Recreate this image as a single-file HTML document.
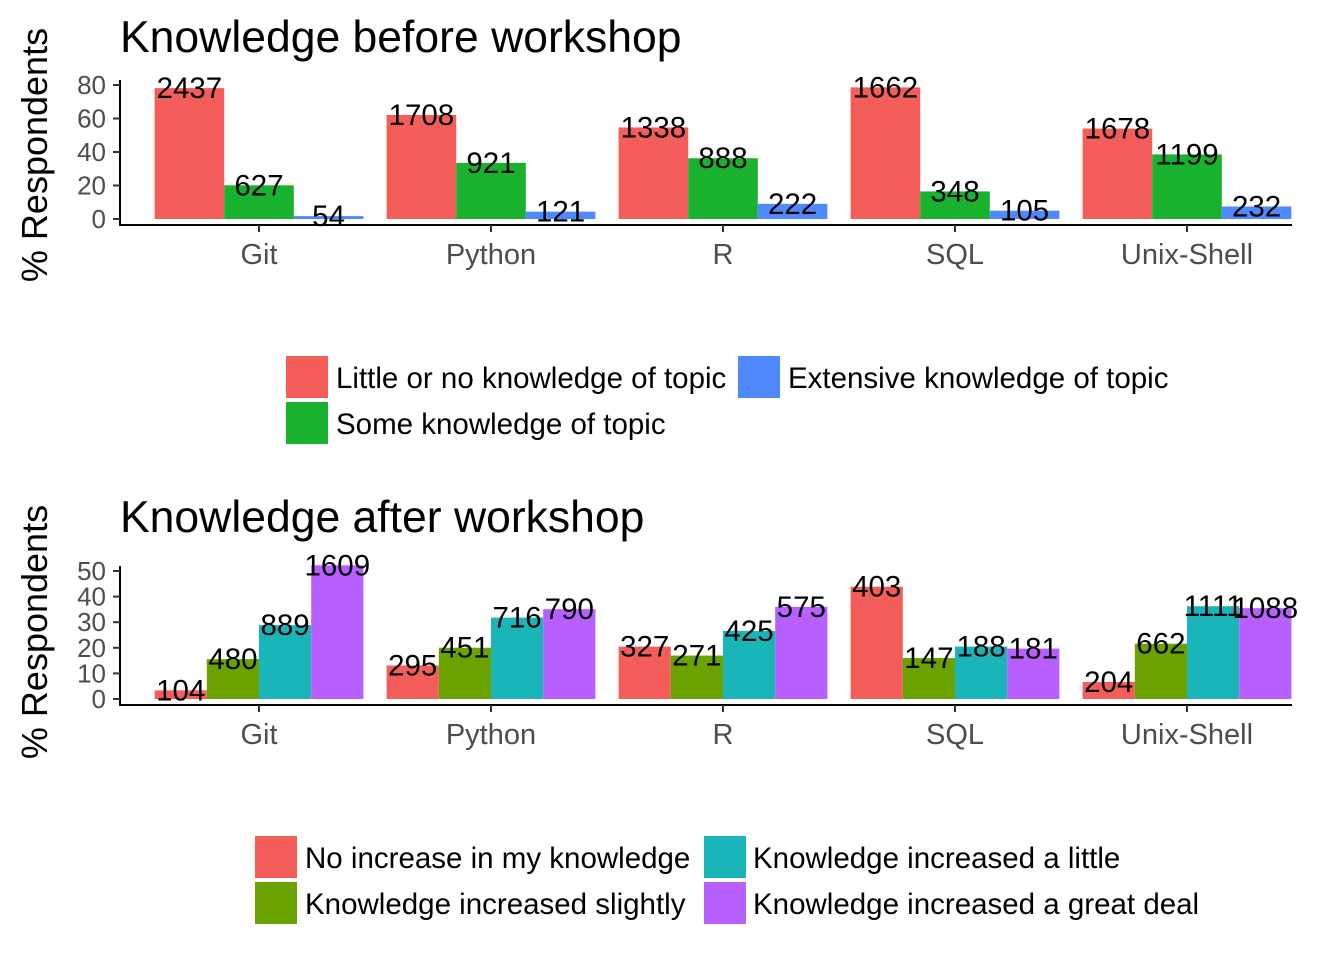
<!DOCTYPE html>
<html><head><meta charset="utf-8"><style>
body{margin:0;background:#fff;}
svg text{font-family:"Liberation Sans",Arial,sans-serif;}
</style></head><body>
<svg id="s" width="1344" height="960" xmlns="http://www.w3.org/2000/svg">
<text x="120" y="52" font-size="44.5">Knowledge before workshop</text>
<text x="120" y="532" font-size="44.5">Knowledge after workshop</text>
<text transform="translate(47,155) rotate(-90)" font-size="36" text-anchor="middle">% Respondents</text>
<text transform="translate(47,632) rotate(-90)" font-size="36" text-anchor="middle">% Respondents</text>
<g id="top"></g>
<g id="bot"></g>
<g>
<rect x="286" y="356" width="42" height="42" fill="#F35E5A"/>
<text x="336" y="388" font-size="29.5">Little or no knowledge of topic</text>
<rect x="286" y="402" width="42" height="42" fill="#19B22F"/>
<text x="336" y="434" font-size="29.5">Some knowledge of topic</text>
<rect x="738" y="356" width="42" height="42" fill="#4F89FF"/>
<text x="788" y="388" font-size="29.5">Extensive knowledge of topic</text>
</g>
<g>
<rect x="255" y="836" width="42" height="42" fill="#F35E5A"/>
<text x="305" y="868" font-size="29.5">No increase in my knowledge</text>
<rect x="255" y="882" width="42" height="42" fill="#6AA300"/>
<text x="305" y="914" font-size="29.5">Knowledge increased slightly</text>
<rect x="704" y="836" width="42" height="42" fill="#19B5B9"/>
<text x="753" y="868" font-size="29.5">Knowledge increased a little</text>
<rect x="704" y="882" width="42" height="42" fill="#B75FFF"/>
<text x="753" y="914" font-size="29.5">Knowledge increased a great deal</text>
</g>
</svg>
<script>
const categories=["Git","Python","R","SQL","Unix-Shell"];
const beforeCounts=[[2437,627,54],[1708,921,121],[1338,888,222],[1662,348,105],[1678,1199,232]];
const afterCounts=[[104,480,889,1609],[295,451,716,790],[327,271,425,575],[403,147,188,181],[204,662,1111,1088]];
const beforeTicks=[0,20,40,60,80];
const afterTicks=[0,10,20,30,40,50];
const beforeColors=["#F35E5A","#19B22F","#4F89FF"];
const afterColors=["#F35E5A","#6AA300","#19B5B9","#B75FFF"];
const NS="http://www.w3.org/2000/svg";
function mk(p,tag,a){const e=document.createElementNS(NS,tag);for(const k in a)e.setAttribute(k,a[k]);p.appendChild(e);return e;}
function draw(g,counts,colors,ticks,y0,pxPerUnit,axisY,prefix){
  const xC=i=>259+i*232;
  const yS=v=>y0-v*pxPerUnit;
  const n=colors.length, bw=232*0.9/n;
  const ax=mk(g,"line",{x1:120,x2:1292,y1:axisY,y2:axisY,stroke:"#000","stroke-width":2});
  
  
  const ay=mk(g,"line",{x1:120,x2:120,y1:yS(ticks[ticks.length-1])-5,y2:axisY+1,stroke:"#000","stroke-width":2});
  
  
  ticks.forEach(t=>{
    const tk=mk(g,"line",{x1:113,x2:120,y1:yS(t),y2:yS(t),stroke:"#333","stroke-width":2});
    
    
    const tl=mk(g,"text",{x:106,y:yS(t)+9,"font-size":26,"text-anchor":"end",fill:"#4d4d4d"});
    tl.textContent=t;
    
    
  });
  counts.forEach((row,i)=>{
    const tot=row.reduce((a,b)=>a+b,0);
    const tk=mk(g,"line",{x1:xC(i),x2:xC(i),y1:axisY,y2:axisY+7,stroke:"#333","stroke-width":2});
    
    
    const cl=mk(g,"text",{x:xC(i),y:axisY+39,"font-size":29,"text-anchor":"middle",fill:"#4d4d4d"});
    cl.textContent=categories[i];
    
    
    row.forEach((c,j)=>{
      const pct=c/tot*100;
      const x=xC(i)-232*0.45+j*bw;
      const r=mk(g,"rect",{x:x,y:yS(pct),width:bw,height:pct*pxPerUnit,fill:colors[j]});
      
      
    });
    row.forEach((c,j)=>{
      const pct=c/tot*100;
      const x=xC(i)-232*0.45+j*bw+bw/2;
      const t=mk(g,"text",{x:x,y:yS(pct)+10,"font-size":29.5,"text-anchor":"middle",fill:"#000"});
      t.textContent=c;
      
      
    });
  });
}
draw(document.getElementById("top"),beforeCounts,beforeColors,beforeTicks,219,134/80,225,"top");
draw(document.getElementById("bot"),afterCounts,afterColors,afterTicks,699,128/50,705,"bottom");
</script>
</body></html>
